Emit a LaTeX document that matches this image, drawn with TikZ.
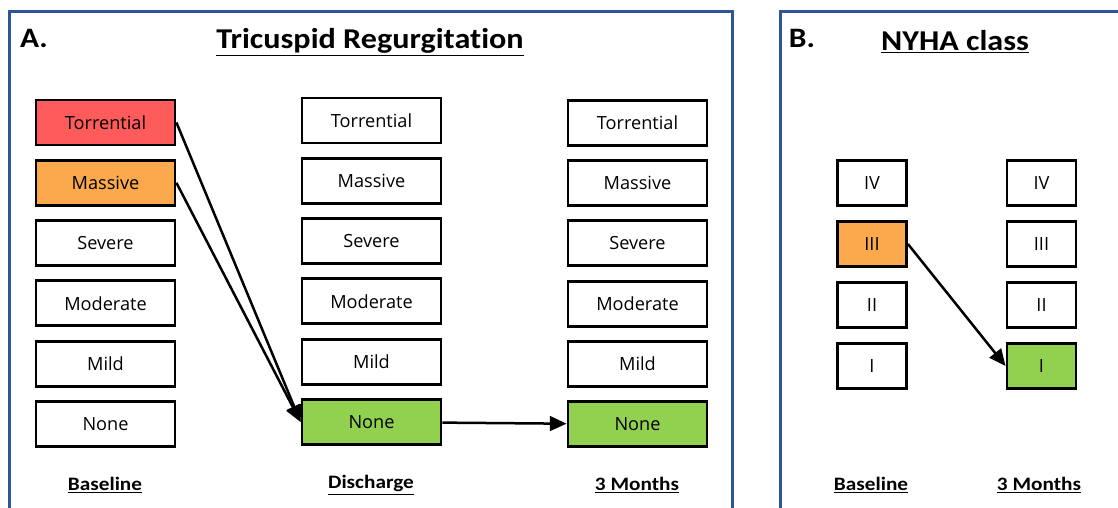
\documentclass[tikz,border=0pt]{standalone}
\usepackage{fontspec}
\setmainfont{Open Sans}
\newfontfamily\headfont[FakeStretch=1.12, Ligatures={NoCommon}]{Carlito}
\usetikzlibrary{arrows.meta, positioning}
\definecolor{frameblue}{HTML}{2F5597}
\definecolor{trred}{HTML}{FF5B5B}
\definecolor{trorange}{HTML}{FBA94C}
\definecolor{trgreen}{HTML}{92D050}
\tikzset{
  grade/.style={draw, line width=0.85mm, fill=#1, minimum height=13.5mm, minimum width=41.7mm,
    inner sep=0pt, font=\fontsize{15.5}{18}\selectfont},
  grade/.default=white,
  cls/.style={grade=#1, minimum width=20.7mm},
  cls/.default=white,
  frame/.style={draw=frameblue, line width=0.9mm},
  head/.style={font=\headfont\bfseries\fontsize{16.2}{19}\selectfont},
  ttl/.style={font=\headfont\bfseries\fontsize{24.5}{29}\selectfont},
  panel/.style={font=\headfont\bfseries\fontsize{24}{28}\selectfont},
  arr/.style={-{Triangle[length=5mm, width=4.4mm]}, line width=0.75mm},
}
\begin{document}
\begin{tikzpicture}[x=0.3mm, y=-0.3mm]
  \useasboundingbox (0,0) rectangle (1118,507);
  % panel frames
  \draw[frame] (9,515) |- (732,11) -- (732,515);
  \draw[frame] (780,515) |- (1125,11);
  \node[panel] (pa) at (34,38) {A.};
  \node[panel] (pb) at (802,38) {B.};
  \node[ttl] (tta) at (370,42) {\underline{Tricuspid Regurgitation}};
  \node[ttl] (ttb) at (955,42) {\underline{NYHA class}};
  % tricuspid regurgitation grades
  \foreach \t/\fb/\fd [count=\i] in {Torrential/trred/white, Massive/trorange/white,
      Severe/white/white, Moderate/white/white, Mild/white/white, None/white/trgreen} {
    \node[grade=\fb] (b\i) at (105.5,{62.2+60.3*\i}) {\t};
    \node[grade=\fd] (d\i) at (371.5,{60.2+60.3*\i}) {\t};
    \node[grade=\fd] (m\i) at (637.5,{62.5+60.3*\i}) {\t};
  }
  % NYHA classes
  \foreach \t/\fb/\fm [count=\i] in {IV/white/white, III/trorange/white,
      II/white/white, I/white/trgreen} {
    \node[cls=\fb] (n\i) at (872,{122+61*\i}) {\t};
    \node[cls=\fm] (p\i) at (1041.5,{122+61*\i}) {\t};
  }
  \node[head] (lb) at (105,485) {\underline{Baseline}};
  \node[head] (ld) at (371,485) {\underline{Discharge}};
  \node[head] (lm) at (637,485) {\underline{3 Months}};
  \node[head] (lnb) at (871,485) {\underline{Baseline}};
  \node[head] (lnm) at (1039,485) {\underline{3 Months}};
  \draw[arr] (b1.east) -- (d6.west);
  \draw[arr] (b2.east) -- (d6.west);
  \draw[arr] (d6) -- (m6);
  \draw[arr] (n2.east) -- (p4.west);
\end{tikzpicture}
\end{document}
